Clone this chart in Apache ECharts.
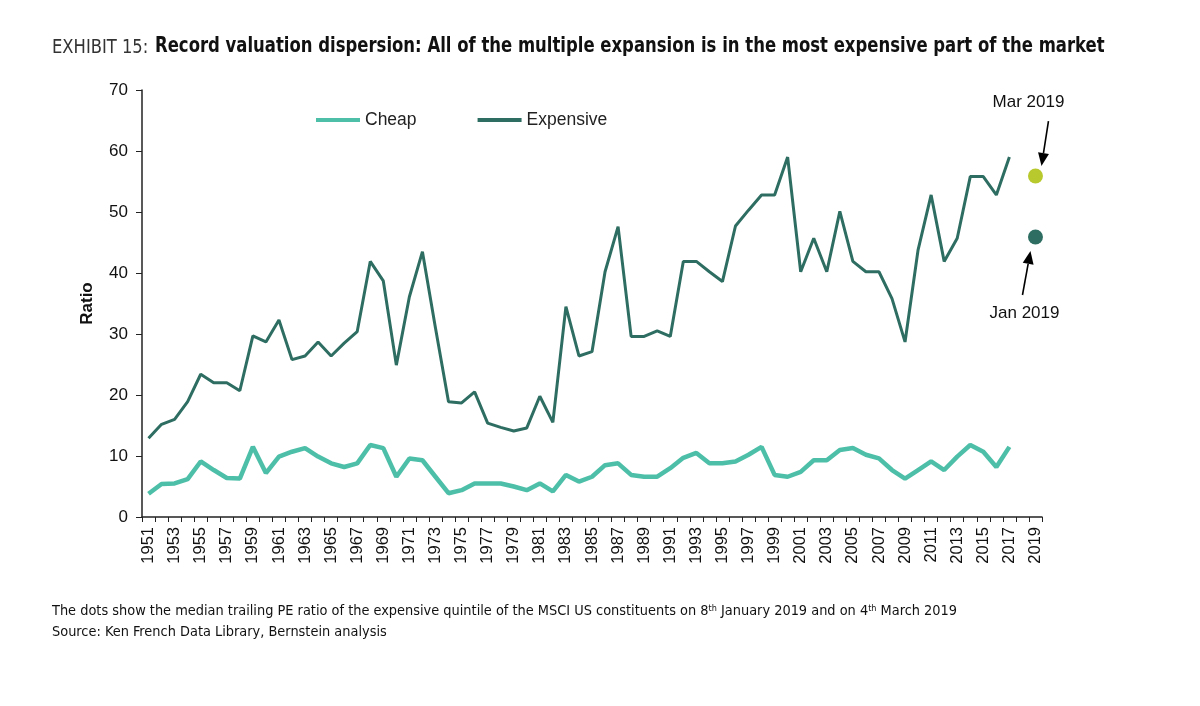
<!DOCTYPE html>
<html><head><meta charset="utf-8">
<script src="https://cdn.jsdelivr.net/npm/echarts@6/dist/echarts.min.js"></script>
<style>html,body{margin:0;padding:0;background:#fff}#c{width:1200px;height:706px}</style>
</head><body><div id="c"></div>
<script>
const years = [];
for (let y = 1951; y <= 2019; y++) years.push(String(y));
const cheap = [3.8,5.4,5.5,6.2,9.1,7.7,6.4,6.3,11.5,7.2,9.9,10.7,11.3,9.9,8.8,8.2,8.8,11.8,11.3,6.6,9.6,9.3,6.6,3.9,
  4.4,5.5,5.5,5.5,5.0,4.4,5.5,4.2,6.9,5.8,6.6,8.5,8.8,6.9,6.6,6.6,8.0,9.7,10.5,8.8,8.8,9.1,10.2,
  11.5,6.9,6.6,7.4,9.3,9.3,11.0,11.3,10.2,9.6,7.7,6.3,7.7,9.1,7.7,9.9,11.8,10.7,8.2,11.5,null,null];
const expensive = [12.9,15.2,16.0,18.9,23.4,22.0,22.0,20.7,29.7,28.7,32.3,25.8,26.4,28.7,26.4,28.5,30.4,41.9,38.7,24.9,36.1,43.5,31.0,18.9,
  18.7,20.5,15.4,14.7,14.1,14.6,19.8,15.5,34.5,26.4,27.1,40.2,47.6,29.6,29.6,30.5,29.6,41.9,41.9,40.2,38.6,47.7,50.3,
  52.8,52.8,59.0,40.2,45.7,40.2,50.1,41.9,40.2,40.2,35.8,28.7,43.8,52.8,41.9,45.7,55.8,55.8,52.8,59.0,null,null];
const dotLabels = ['Mar 2019', 'Jan 2019'];
const dotValues = [55.9, 45.9];
const dotColors = ['#b8c92e', '#2e6e62'];

const chart = echarts.init(document.getElementById('c'));
chart.setOption({
  animation: false,
  backgroundColor: '#fff',
  grid: { left: 142, right: 158, top: 90, bottom: 189, containLabel: false },
  legend: {
    data: ['Cheap', 'Expensive'],
    left: 311, top: 106, itemGap: 61, itemWidth: 44, itemHeight: 4,
    icon: 'rect',
    textStyle: { fontFamily: 'Liberation Sans, Arial', fontSize: 17.5, color: '#222' }
  },
  xAxis: {
    type: 'category', data: years, boundaryGap: true,
    axisLine: { lineStyle: { color: '#222', width: 1.5 } },
    axisTick: { show: true, interval: 0, length: 5, lineStyle: { color: '#222' } },
    axisLabel: { interval: 1, rotate: 90, fontFamily: 'Liberation Sans, Arial', fontSize: 16.5, color: '#111', margin: 10 }
  },
  yAxis: {
    type: 'value', min: 0, max: 70, interval: 10,
    name: 'Ratio', nameLocation: 'middle', nameGap: 46, nameRotate: 90,
    nameTextStyle: { fontFamily: 'Liberation Sans, Arial', fontSize: 17, fontWeight: 'bold', color: '#111' },
    axisLine: { show: true, lineStyle: { color: '#222', width: 1.5 } },
    axisTick: { show: true, length: 6, lineStyle: { color: '#222' } },
    axisLabel: { fontFamily: 'Liberation Sans, Arial', fontSize: 17, color: '#111', margin: 14 },
    splitLine: { show: false }
  },
  series: [
    { name: 'Cheap', type: 'line', data: cheap, symbol: 'none', color: '#4dbfa8',
      lineStyle: { width: 4.5, color: '#4dbfa8' }, z: 3 },
    { name: 'Expensive', type: 'line', data: expensive, symbol: 'none', color: '#2e6e62',
      lineStyle: { width: 3, color: '#2e6e62' }, z: 2 },
    { name: 'Dots', type: 'scatter', symbolSize: 15,
      data: dotValues.map((v, i) => ({ value: ['2019', v], name: dotLabels[i], itemStyle: { color: dotColors[i], opacity: 1 } })) }
  ]
});

const pMar = chart.convertToPixel({ seriesIndex: 2 }, ['2019', dotValues[0]]);
const pJan = chart.convertToPixel({ seriesIndex: 2 }, ['2019', dotValues[1]]);
function arrow(x1, y1, x2, y2) {
  const a = Math.atan2(y2 - y1, x2 - x1), L = 13, W = 5.5;
  const bx = x2 - L * Math.cos(a), by = y2 - L * Math.sin(a);
  return [
    { type: 'line', shape: { x1: x1, y1: y1, x2: bx, y2: by }, style: { stroke: '#000', lineWidth: 1.6 } },
    { type: 'polygon', shape: { points: [[x2, y2], [bx + W * Math.sin(a), by - W * Math.cos(a)], [bx - W * Math.sin(a), by + W * Math.cos(a)]] }, style: { fill: '#000' } }
  ];
}
const cond = '"DejaVu Sans Condensed", "Liberation Sans Narrow", sans-serif';
chart.setOption({
  graphic: [
    { type: 'text', x: 52, y: 38, scaleX: 0.91, style: { text: 'EXHIBIT 15:', font: '20px ' + cond, fill: '#333' } },
    { type: 'text', x: 155, y: 36, scaleX: 0.872, style: { text: 'Record valuation dispersion: All of the multiple expansion is in the most expensive part of the market', font: 'bold 21px ' + cond, fill: '#111' } },
    { type: 'text', x: 52, y: 604, style: { rich: { n: { font: '14.4px ' + cond, fill: '#111' }, s: { font: '9px ' + cond, fill: '#111', verticalAlign: 'top', padding: [0,0,6,0] } },
      text: '{n|The dots show the median trailing PE ratio of the expensive quintile of the MSCI US constituents on 8}{s|th}{n| January 2019 and on 4}{s|th}{n| March 2019}' } },
    { type: 'text', x: 52, y: 625, style: { text: 'Source: Ken French Data Library, Bernstein analysis', font: '14.4px ' + cond, fill: '#111' } },
    { type: 'text', x: pMar[0] - 7, y: pMar[1] - 74, style: { text: dotLabels[0], font: '17px "Liberation Sans", Arial', fill: '#111', align: 'center', verticalAlign: 'middle' } },
    { type: 'text', x: pJan[0] - 11, y: pJan[1] + 76, style: { text: dotLabels[1], font: '17px "Liberation Sans", Arial', fill: '#111', align: 'center', verticalAlign: 'middle' } },
    ...arrow(pMar[0] + 13, pMar[1] - 55, pMar[0] + 6, pMar[1] - 10),
    ...arrow(pJan[0] - 13, pJan[1] + 58, pJan[0] - 5, pJan[1] + 14)
  ]
});
</script></body></html>
